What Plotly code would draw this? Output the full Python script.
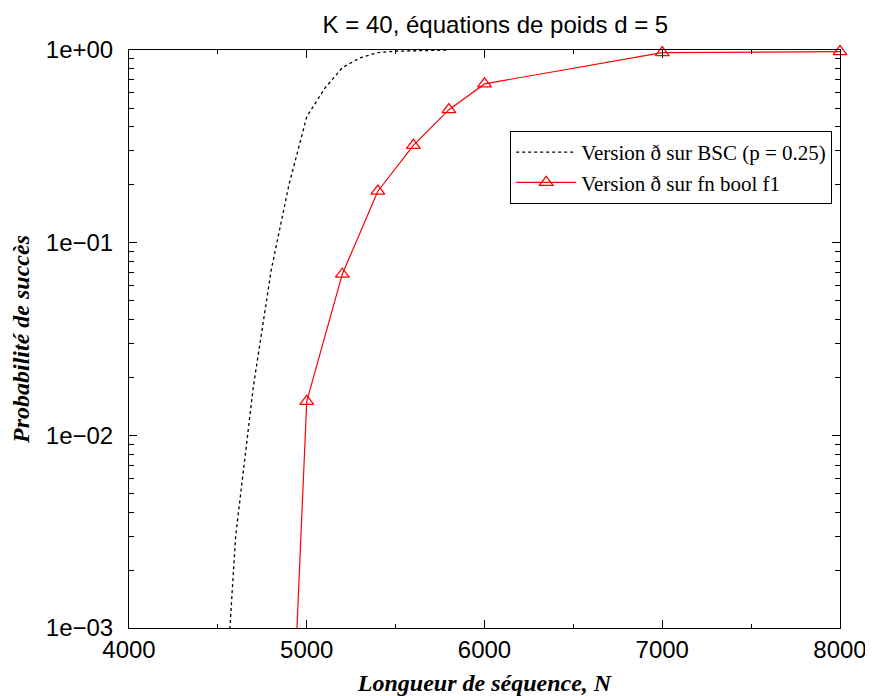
import plotly.graph_objects as go

# Series 1: Version ð sur BSC (p = 0.25)
n_bsc = [4500, 4600, 4700, 4800, 4900, 5000, 5100, 5200, 5300, 5400, 5500, 5600, 5700, 5800]
p_bsc = [1.0e-4, 0.003, 0.018, 0.072, 0.20, 0.45, 0.63, 0.81, 0.91, 0.97, 0.985, 0.993, 0.998, 1.0]

# Series 2: Version ð sur fn bool f1
n_f1 = [4900, 5000, 5200, 5400, 5600, 5800, 6000, 7000, 8000]
p_f1 = [1.1e-4, 0.015, 0.0686, 0.185, 0.32, 0.49, 0.667, 0.97, 0.98]

y_tickvals = [1e-3, 1e-2, 1e-1, 1]
y_ticktext = ["1e\u221203", "1e\u221202", "1e\u221201", "1e+00"]
y_minor_vals = [m * 10.0 ** e for e in (-3, -2, -1) for m in range(2, 10)]
x_tickvals = [4000, 5000, 6000, 7000, 8000]
x_minor_vals = [4500, 5500, 6500, 7500]

fig = go.Figure()
fig.add_trace(go.Scatter(
    x=n_bsc, y=p_bsc, mode="lines", name="Version ð sur BSC (p = 0.25)",
    line=dict(color="black", dash="dot", width=1.3),
))
fig.add_trace(go.Scatter(
    x=n_f1, y=p_f1, mode="lines+markers", name="Version ð sur fn bool f1",
    line=dict(color="red", width=1.2), cliponaxis=False,
    marker=dict(symbol="triangle-up-open", size=12, color="red", line=dict(width=1.3)),
))

axis_common = dict(
    showline=True, linecolor="black", linewidth=1, mirror="allticks",
    ticks="inside", ticklen=8, tickcolor="black", showgrid=False, zeroline=False,
    automargin=False,
    tickfont=dict(family="Liberation Sans, Arial", size=24, color="black"),
)

fig.update_xaxes(
    range=[4000, 8000], tickvals=x_tickvals,
    minor=dict(ticks="inside", ticklen=4, tickvals=x_minor_vals, tickcolor="black"),
    title=dict(text="<b><i>Longueur de séquence, N</i></b>",
               font=dict(family="Liberation Serif, Times New Roman", size=24, color="black"),
               standoff=12),
    **axis_common,
)
fig.update_yaxes(
    type="log", range=[-3, 0], tickvals=y_tickvals, ticktext=y_ticktext,
    minor=dict(ticks="inside", ticklen=5, tickvals=y_minor_vals, tickcolor="black"),
    ticklabelstandoff=10,
    title=dict(text="<b><i>Probabilité de succès</i></b>",
               font=dict(family="Liberation Serif, Times New Roman", size=24, color="black"),
               standoff=14),
    **axis_common,
)

fig.update_layout(
    width=865, height=688,
    margin=dict(l=121, r=33, t=42, b=68),
    paper_bgcolor="white", plot_bgcolor="white",
    title=dict(text="K = 40, équations de poids d = 5", x=0.5635, xanchor="center",
               y=0.976, yanchor="middle",
               font=dict(family="Liberation Sans, Arial", size=24, color="black")),
    legend=dict(x=0.989, y=0.86, xanchor="right", yanchor="top",
                bgcolor="white", bordercolor="black", borderwidth=1,
                font=dict(family="Liberation Serif, Times New Roman", size=21, color="black"),
                itemwidth=60, tracegroupgap=0),
    showlegend=True,
)

fig.write_html("out.html")
